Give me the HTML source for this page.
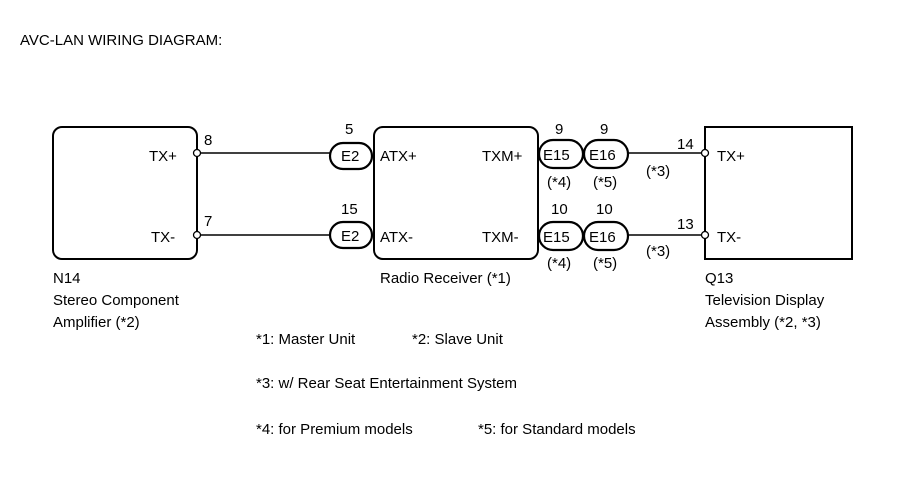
<!DOCTYPE html>
<html><head><style>
body{margin:0;background:#fff;width:906px;height:483px;overflow:hidden}
svg text{font-family:"Liberation Sans",Arial,sans-serif;font-size:15px;fill:#000}
</style></head><body>
<svg width="906" height="483" viewBox="0 0 906 483" xmlns="http://www.w3.org/2000/svg">
<text x="20" y="45">AVC-LAN WIRING DIAGRAM:</text>
<g fill="none" stroke="#000" stroke-width="2">
<rect x="53" y="127" width="144" height="132" rx="9"/>
<rect x="374" y="127" width="164" height="132" rx="9"/>
<rect x="705" y="127" width="147" height="132"/>
</g>
<g stroke="#000" stroke-width="1.5">
<line x1="201" y1="153" x2="330" y2="153"/>
<line x1="201" y1="235" x2="330" y2="235"/>
<line x1="628" y1="153" x2="701" y2="153"/>
<line x1="628" y1="235" x2="701" y2="235"/>
</g>
<g fill="#fff" stroke="#000" stroke-width="1.3">
<circle cx="197" cy="153" r="3.5"/><circle cx="197" cy="235" r="3.5"/>
<circle cx="705" cy="153" r="3.5"/><circle cx="705" cy="235" r="3.5"/>
</g>
<g fill="#fff" stroke="#000" stroke-width="2.2">
<rect x="330" y="143" width="42" height="26" rx="13"/>
<rect x="330" y="222" width="42" height="26" rx="13"/>
<rect x="539" y="140" width="44" height="28" rx="14"/>
<rect x="584" y="140" width="44" height="28" rx="14"/>
<rect x="539" y="222" width="44" height="28" rx="14"/>
<rect x="584" y="222" width="44" height="28" rx="14"/>
</g>
<text x="341" y="161">E2</text><text x="341" y="241">E2</text>
<text x="543" y="160">E15</text><text x="589" y="160">E16</text>
<text x="543" y="242">E15</text><text x="589" y="242">E16</text>
<text x="345" y="134">5</text><text x="341" y="214">15</text>
<text x="555" y="134">9</text><text x="600" y="134">9</text>
<text x="551" y="214">10</text><text x="596" y="214">10</text>
<text x="547" y="187">(*4)</text><text x="593" y="187">(*5)</text>
<text x="547" y="268">(*4)</text><text x="593" y="268">(*5)</text>
<text x="646" y="176">(*3)</text><text x="646" y="256">(*3)</text>
<text x="677" y="149">14</text><text x="677" y="229">13</text>
<text x="204" y="145">8</text><text x="204" y="226">7</text>
<text x="149" y="161">TX+</text><text x="151" y="242">TX-</text>
<text x="380" y="161">ATX+</text><text x="380" y="242">ATX-</text>
<text x="482" y="161">TXM+</text><text x="482" y="242">TXM-</text>
<text x="717" y="161">TX+</text><text x="717" y="242">TX-</text>
<text x="53" y="283">N14</text>
<text x="53" y="305">Stereo Component</text>
<text x="53" y="327">Amplifier (*2)</text>
<text x="380" y="283">Radio Receiver (*1)</text>
<text x="705" y="283">Q13</text>
<text x="705" y="305">Television Display</text>
<text x="705" y="327">Assembly (*2, *3)</text>
<text x="256" y="344">*1: Master Unit</text>
<text x="412" y="344">*2: Slave Unit</text>
<text x="256" y="388">*3: w/ Rear Seat Entertainment System</text>
<text x="256" y="434">*4: for Premium models</text>
<text x="478" y="434">*5: for Standard models</text>
</svg>
</body></html>
